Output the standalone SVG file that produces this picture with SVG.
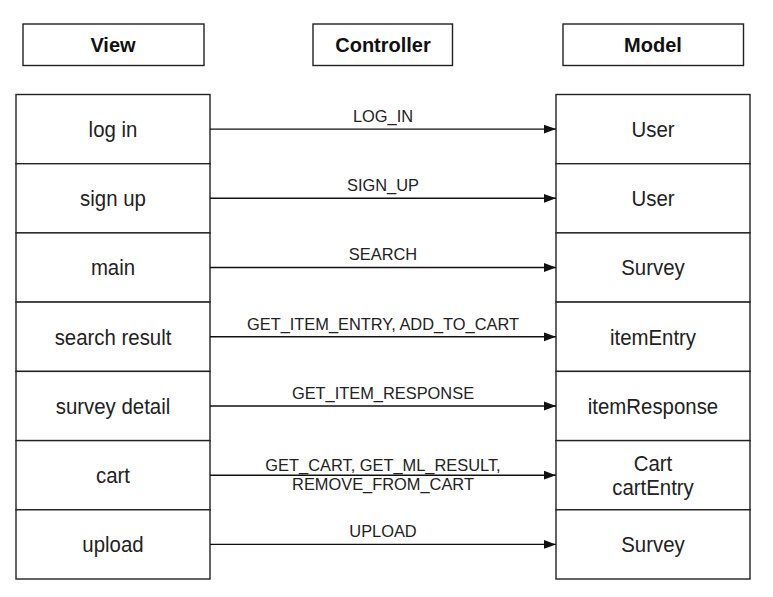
<svg xmlns="http://www.w3.org/2000/svg" width="773" height="597" viewBox="0 0 773 597">
<style>
  .box { fill: #ffffff; stroke: #222222; stroke-width: 1.4; }
  .hdr { font-family: "Liberation Sans", Arial, Helvetica, sans-serif; font-size: 20px; font-weight: bold; fill: #111111; text-anchor: middle; }
  .node { font-family: "Liberation Sans", Arial, Helvetica, sans-serif; font-size: 22.3px; fill: #222222; text-anchor: middle; transform-box: fill-box; transform-origin: center; transform: scaleX(0.915); }
  .lbl { font-family: "Liberation Sans", Arial, Helvetica, sans-serif; font-size: 16.4px; fill: #222222; text-anchor: middle; }
  .conn { stroke: #111111; stroke-width: 1.4; fill: none; marker-end: url(#arrow); }
</style>
<defs>
  <marker id="arrow" markerUnits="userSpaceOnUse" markerWidth="13" markerHeight="10" refX="12" refY="5" orient="auto">
    <path d="M0,0.6 L12,5 L0,9.4 Z" fill="#111111"/>
  </marker>
</defs>
<rect width="773" height="597" fill="#ffffff"/>

<g id="header-view"><rect class="box" x="23" y="24" width="181" height="41.5"/><text class="hdr" x="113" y="52">View</text></g>
<g id="header-controller"><rect class="box" x="313" y="24" width="139.5" height="41.5"/><text class="hdr" x="383" y="52">Controller</text></g>
<g id="header-model"><rect class="box" x="563" y="24" width="180.5" height="41.5"/><text class="hdr" x="653" y="52">Model</text></g>

<g id="view-login"><rect class="box" x="16" y="94.5" width="194" height="69.2"/><text class="node" x="113" y="137">log in</text></g>
<g id="view-signup"><rect class="box" x="16" y="163.7" width="194" height="69.2"/><text class="node" x="113" y="206.2">sign up</text></g>
<g id="view-main"><rect class="box" x="16" y="232.9" width="194" height="69.2"/><text class="node" x="113" y="275.4">main</text></g>
<g id="view-search-result"><rect class="box" x="16" y="302.1" width="194" height="69.3"/><text class="node" x="113" y="344.7">search result</text></g>
<g id="view-survey-detail"><rect class="box" x="16" y="371.4" width="194" height="69.2"/><text class="node" x="113" y="413.9">survey detail</text></g>
<g id="view-cart"><rect class="box" x="16" y="440.6" width="194" height="69.2"/><text class="node" x="113" y="483.1">cart</text></g>
<g id="view-upload"><rect class="box" x="16" y="509.8" width="194" height="69.2"/><text class="node" x="113" y="552.3">upload</text></g>

<g id="model-user-1"><rect class="box" x="556" y="94.5" width="194" height="69.2"/><text class="node" x="653" y="137">User</text></g>
<g id="model-user-2"><rect class="box" x="556" y="163.7" width="194" height="69.2"/><text class="node" x="653" y="206.2">User</text></g>
<g id="model-survey-1"><rect class="box" x="556" y="232.9" width="194" height="69.2"/><text class="node" x="653" y="275.4">Survey</text></g>
<g id="model-itementry"><rect class="box" x="556" y="302.1" width="194" height="69.3"/><text class="node" x="653" y="344.7">itemEntry</text></g>
<g id="model-itemresponse"><rect class="box" x="556" y="371.4" width="194" height="69.2"/><text class="node" x="653" y="413.9">itemResponse</text></g>
<g id="model-cart"><rect class="box" x="556" y="440.6" width="194" height="69.2"/><text class="node" x="653" y="471">Cart</text><text class="node" x="653" y="495">cartEntry</text></g>
<g id="model-survey-2"><rect class="box" x="556" y="509.8" width="194" height="69.2"/><text class="node" x="653" y="552.3">Survey</text></g>

<g id="connectors">
  <line class="conn" x1="210" y1="129.1" x2="556" y2="129.1"/>
  <text class="lbl" x="383" y="122">LOG_IN</text>
  <line class="conn" x1="210" y1="198.3" x2="556" y2="198.3"/>
  <text class="lbl" x="383" y="191.2">SIGN_UP</text>
  <line class="conn" x1="210" y1="267.5" x2="556" y2="267.5"/>
  <text class="lbl" x="383" y="260.4">SEARCH</text>
  <line class="conn" x1="210" y1="336.8" x2="556" y2="336.8"/>
  <text class="lbl" x="383" y="329.6">GET_ITEM_ENTRY, ADD_TO_CART</text>
  <line class="conn" x1="210" y1="406" x2="556" y2="406"/>
  <text class="lbl" x="383" y="398.9">GET_ITEM_RESPONSE</text>
  <line class="conn" x1="210" y1="475.2" x2="556" y2="475.2"/>
  <text class="lbl" x="383" y="471">GET_CART, GET_ML_RESULT,</text>
  <text class="lbl" x="383" y="490">REMOVE_FROM_CART</text>
  <line class="conn" x1="210" y1="544.4" x2="556" y2="544.4"/>
  <text class="lbl" x="383" y="537.3">UPLOAD</text>
</g>
</svg>
